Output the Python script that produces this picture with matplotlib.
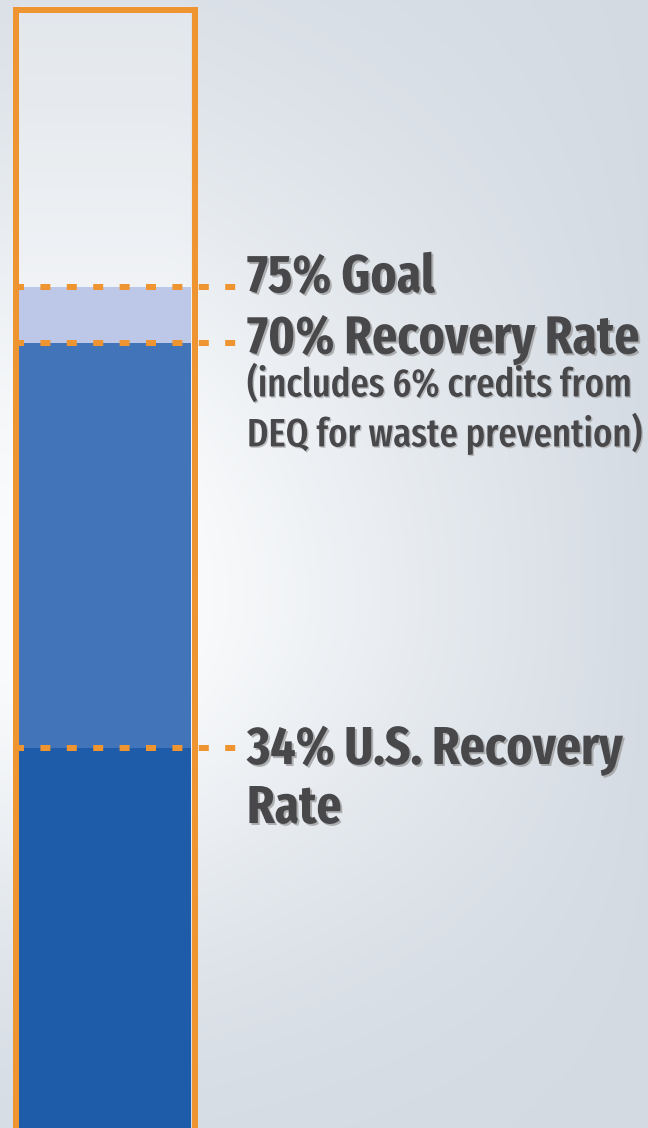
import numpy as np
import matplotlib
matplotlib.use("Agg")
import matplotlib.pyplot as plt
from matplotlib import patheffects as pe

plt.rcParams["lines.scale_dashes"] = False

# ---------------- data ----------------
capacity = 100
fill_levels = [34, 70, 75]                 # tops of the stacked fill segments
fill_colors = ["#1e5ca9", "#4174b9", "#bdc7e7"]
marker_levels = [75, 70, 34]               # dashed reference lines
label_texts = ["75% Goal", "70% Recovery Rate",
               "(includes 6% credits from", "DEQ for waste prevention)",
               "34% U.S. Recovery", "Rate"]
label_levels = [75, 70, 70, 70, 34, 34]
label_big = [True, True, False, False, True, True]

# ---------------- layout ----------------
W, H, DPI = 648, 1128, 100
PX_PER_PCT = 11.24
ZERO_PX = 1130.2
ORANGE = "#ee9430"
TEXT = "#48484b"

fig = plt.figure(figsize=(W / DPI, H / DPI), dpi=DPI)
ax = fig.add_axes([0, 0, 1, 1])
ylo = (ZERO_PX - H) / PX_PER_PCT
yhi = ZERO_PX / PX_PER_PCT
ax.set_xlim(0, W)
ax.set_ylim(ylo, yhi)
ax.axis("off")

# background gradient
xs = np.linspace(0, W, W)
ys = np.linspace(0, H, H)
X, Y = np.meshgrid(xs, ys)
hx = np.clip(1 - (X - 170) / 500, 0, 1)
sig = np.where(Y < 600, 480, 340)
vy = np.exp(-((Y - 600) / sig) ** 2)
t = (hx * vy)[..., None]
dark = np.array([0xd3, 0xda, 0xe2]) / 255
light = np.array([0xfb, 0xfc, 0xfd]) / 255
img = dark * (1 - t) + light * t
ax.imshow(img, extent=(0, W, ylo, yhi), aspect="auto", zorder=0, origin="upper")

# tube
bar_x = 105
bar_w = 172
bottoms = [0] + fill_levels[:-1]
for b, top, c in zip(bottoms, fill_levels, fill_colors):
    ax.bar(bar_x, top - b, bottom=b, width=bar_w, color=c, linewidth=0, zorder=2)
ax.bar(bar_x, capacity - fill_levels[-1], bottom=fill_levels[-1], width=bar_w,
       color="white", alpha=0.22, linewidth=0, zorder=2)

lx, rx = bar_x - bar_w / 2 - 3.5, bar_x + bar_w / 2 + 3.5
top_y = capacity - 0.3
ax.plot([lx, lx, rx, rx], [ylo - 1, top_y, top_y, ylo - 1], color=ORANGE,
        lw=6 * 0.72, solid_joinstyle="miter", zorder=4)

# dashed markers
for lv in marker_levels:
    ax.plot([14, 237], [lv, lv], color=ORANGE, lw=6 * 0.72, zorder=3,
            dash_capstyle="butt",
            linestyle=(0, (10 * 0.72, 16.4 * 0.72)))

# labels
offsets_px = [5, 10, 53, 103, 16, 75]
fam = ["Fira Sans Extra Condensed", "Fira Sans Condensed",
       "Liberation Sans Narrow", "DejaVu Sans"]
shadow = [pe.SimplePatchShadow(offset=(1.4, -1.4), shadow_rgbFace="#9a9a9a", alpha=0.75),
          pe.Normal()]
shadow_small = [pe.SimplePatchShadow(offset=(1.0, -1.0), shadow_rgbFace="#9a9a9a", alpha=0.6),
                pe.Normal()]
texts = []
for txt, lv, big, off in zip(label_texts, label_levels, label_big, offsets_px):
    tt = ax.annotate(txt, xy=(247, lv), xycoords="data",
                     xytext=(0, -off * 0.72), textcoords="offset points",
                     ha="left", va="baseline", color=TEXT, family=fam,
                     fontweight="bold" if big else "medium",
                     fontsize=37 if big else 29, zorder=5,
                     path_effects=shadow if big else shadow_small)
    texts.append(tt)

fig.canvas.draw()
r = fig.canvas.get_renderer()
w_big = texts[1].get_window_extent(r).width
w_small = texts[3].get_window_extent(r).width
s_big = texts[1].get_fontsize() * 393 / w_big
s_small = texts[3].get_fontsize() * 395 / w_small
for tt, big in zip(texts, label_big):
    tt.set_fontsize(s_big if big else s_small)

fig.savefig("out.png", dpi=DPI)
